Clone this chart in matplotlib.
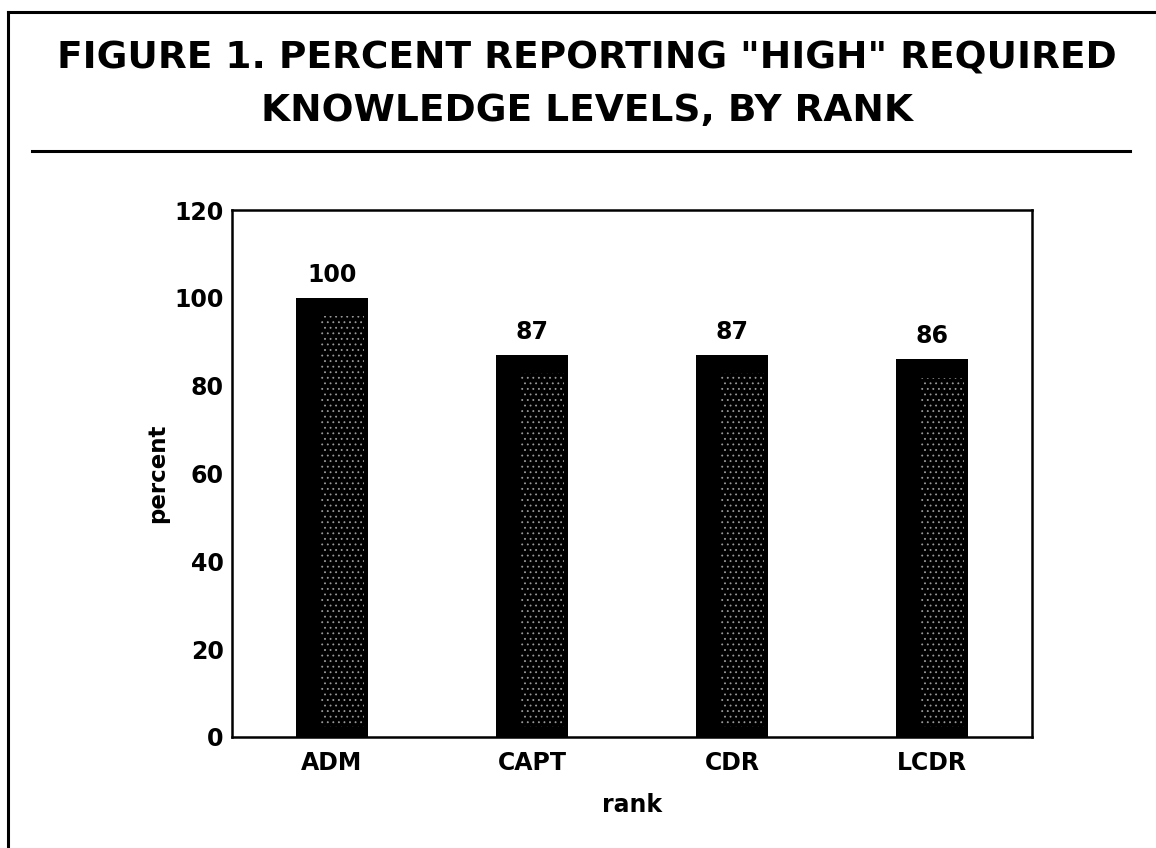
import matplotlib
matplotlib.use("Agg")
import matplotlib.pyplot as plt
from matplotlib.lines import Line2D
import numpy as np

ranks = ["ADM", "CAPT", "CDR", "LCDR"]
percent_high = [100, 87, 87, 86]
y_ticks = [0, 20, 40, 60, 80, 100, 120]
title_line1 = 'FIGURE 1. PERCENT REPORTING "HIGH" REQUIRED'
title_line2 = "KNOWLEDGE LEVELS, BY RANK"

plt.rcParams['font.family'] = ['DejaVu Sans']
plt.rcParams['font.weight'] = 'bold'
plt.rcParams['hatch.linewidth'] = 0.6

W, H = 1156, 848
fig = plt.figure(figsize=(W / 100, H / 100), dpi=100)
fig.patch.set_facecolor('white')

# outer frame (left and top only)
fig.add_artist(Line2D([8 / W, 8 / W], [0, 1 - 12 / H], transform=fig.transFigure,
                      color='black', lw=2.2))
fig.add_artist(Line2D([8 / W, 1.0], [1 - 12 / H, 1 - 12 / H], transform=fig.transFigure,
                      color='black', lw=2.2))
# rule under title
fig.add_artist(Line2D([32 / W, 1130 / W], [1 - 151 / H, 1 - 151 / H], transform=fig.transFigure,
                      color='black', lw=2.2))

fig.text(587 / W, 1 - 68 / H, title_line1, ha='center', va='baseline',
         fontsize=27, fontweight='bold')
fig.text(587 / W, 1 - 121 / H, title_line2, ha='center', va='baseline',
         fontsize=27, fontweight='bold')

ax = fig.add_axes([232 / W, 1 - 737 / H, 800 / W, (737 - 210) / H])
x = np.arange(len(ranks))
vals = np.array(percent_high, dtype=float)
bw = 0.36
ax.bar(x, vals, bw, color='black', edgecolor='black', linewidth=0, zorder=2)
# stipple texture inside bars
ax.bar(x + bw * 0.15, vals - 6.5, bw * 0.6, bottom=2.3, facecolor='none',
       edgecolor='#9a9a9a', hatch='...', linewidth=0, zorder=3)

for xi, v in zip(x, percent_high):
    ax.annotate(f"{v}", (xi, v), xytext=(0, 11.5), textcoords='offset points',
                ha='center', va='baseline', fontsize=17, fontweight='bold')

ax.set_xlim(-0.5, 3.5)
ax.set_ylim(0, 120)
ax.set_yticks(y_ticks)
ax.set_yticklabels([str(t) for t in y_ticks], fontsize=17, fontweight='bold')
ax.set_xticks(x)
ax.set_xticklabels(ranks, fontsize=17, fontweight='bold')
ax.tick_params(axis='x', length=0, pad=10)
ax.tick_params(axis='y', length=0, pad=6)
ax.set_xlabel('rank', fontsize=17, fontweight='bold', labelpad=13)
ax.set_ylabel('percent', fontsize=16.5, fontweight='bold', labelpad=4)
for s in ax.spines.values():
    s.set_linewidth(1.8)
    s.set_color('black')

fig.savefig('out.png', dpi=100, facecolor='white')
